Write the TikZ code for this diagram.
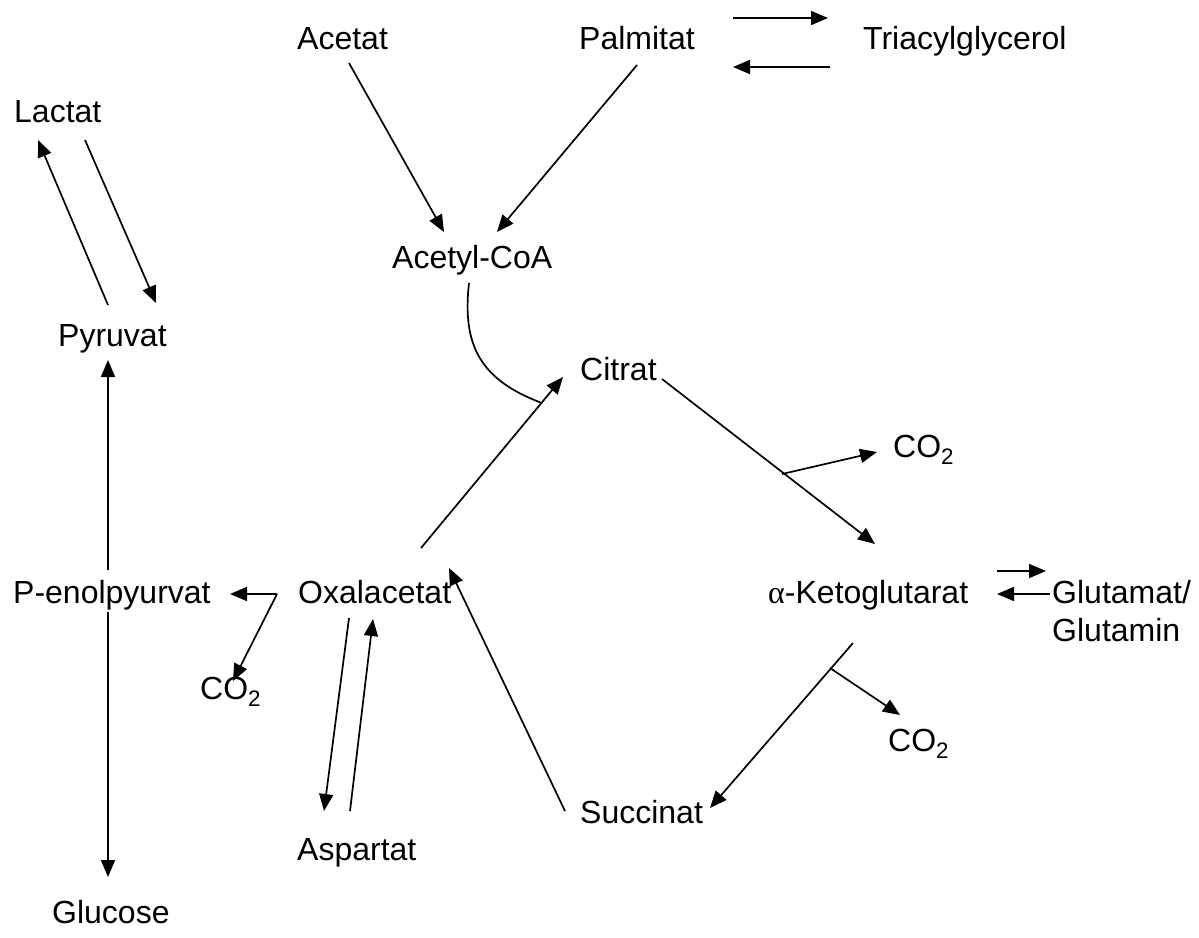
\documentclass[tikz,border=0pt]{standalone}
\usepackage{fontspec}
\setmainfont{Liberation Sans}
\newfontfamily\greekserif{Liberation Serif}
\usetikzlibrary{arrows.meta}
\begin{document}
\begin{tikzpicture}[x=1pt,y=-1pt,
  lbl/.style={anchor=base west,inner sep=0pt,font=\fontsize{32}{38}\selectfont},
  conn/.style={line width=1.7pt},
  arr/.style={conn,-{Triangle[length=17pt,width=14pt]}}]
\useasboundingbox (0,0) rectangle (1199,937);
% labels
\node[lbl] (acetat) at (297,49) {Acetat};
\node[lbl] (palmitat) at (579,49) {Palmitat};
\node[lbl] (tag) at (863,49) {Triacylglycerol};
\node[lbl] (lactat) at (14,122) {Lactat};
\node[lbl] (acoa) at (392,268) {Acetyl-CoA};
\node[lbl] (pyruvat) at (58,346) {Pyruvat};
\node[lbl] (citrat) at (580,380) {Citrat};
\node[lbl] (co2a) at (893,457) {CO\textsubscript{2}};
\node[lbl] (pep) at (13,603) {P-enolpyurvat};
\node[lbl] (oaa) at (298,603) {Oxalacetat};
\node[lbl] (akg) at (768,603) {{\greekserif α}-Ketoglutarat};
\node[lbl] (glu) at (1052,603) {Glutamat/};
\node[lbl] (gln) at (1052,641) {Glutamin};
\node[lbl] (co2b) at (200,699) {CO\textsubscript{2}};
\node[lbl] (co2c) at (888,751) {CO\textsubscript{2}};
\node[lbl] (succ) at (580,823) {Succinat};
\node[lbl] (asp) at (297,860) {Aspartat};
\node[lbl] (glc) at (52,923) {Glucose};
% end points
\coordinate (pt1) at (733,18); \coordinate (pt2) at (828,18);
\coordinate (tp1) at (830,67); \coordinate (tp2) at (733,67);
\coordinate (ac1) at (349,63); \coordinate (ac2) at (444,232);
\coordinate (pa1) at (637,65); \coordinate (pa2) at (497,232);
\coordinate (pl1) at (108,305); \coordinate (pl2) at (38,140);
\coordinate (lp1) at (85,140); \coordinate (lp2) at (156,303);
\coordinate (py1) at (108,570); \coordinate (py2) at (108,360);
\coordinate (gl1) at (108,612); \coordinate (gl2) at (108,877);
\coordinate (oc1) at (421,548); \coordinate (oc2) at (563,377);
\coordinate (cu1) at (469,283); \coordinate (cu2) at (542,403);
\coordinate (ck1) at (662,379); \coordinate (ck2) at (875,544);
\coordinate (cb) at (782,474); \coordinate (cb2) at (877,452);
\coordinate (ks1) at (853,643); \coordinate (ks2) at (710,808);
\coordinate (kb) at (830,668); \coordinate (kb2) at (900,715);
\coordinate (so1) at (565,811); \coordinate (so2) at (449,568);
\coordinate (oa1) at (349,618); \coordinate (oa2) at (324,811);
\coordinate (ao1) at (350,811); \coordinate (ao2) at (373,619);
\coordinate (ob) at (277,594); \coordinate (ob1) at (230,594); \coordinate (ob2) at (233,681);
\coordinate (kg1) at (997,571); \coordinate (kg2) at (1046,571);
\coordinate (gk1) at (1050,594); \coordinate (gk2) at (997,594);
% connectors
\draw[arr] (pt1) -- (pt2);
\draw[arr] (tp1) -- (tp2);
\draw[arr] (ac1) -- (ac2);
\draw[arr] (pa1) -- (pa2);
\draw[arr] (pl1) -- (pl2);
\draw[arr] (lp1) -- (lp2);
\draw[arr] (py1) -- (py2);
\draw[arr] (gl1) -- (gl2);
\draw[arr] (oc1) -- (oc2);
\draw[conn] (cu1) .. controls (462,345) and (480,380) .. (cu2);
\draw[arr] (ck1) -- (ck2);
\draw[arr] (cb) -- (cb2);
\draw[arr] (ks1) -- (ks2);
\draw[arr] (kb) -- (kb2);
\draw[arr] (so1) -- (so2);
\draw[arr] (oa1) -- (oa2);
\draw[arr] (ao1) -- (ao2);
\draw[arr] (ob) -- (ob1);
\draw[arr] (ob) -- (ob2);
\draw[arr] (kg1) -- (kg2);
\draw[arr] (gk1) -- (gk2);
\end{tikzpicture}
\end{document}
